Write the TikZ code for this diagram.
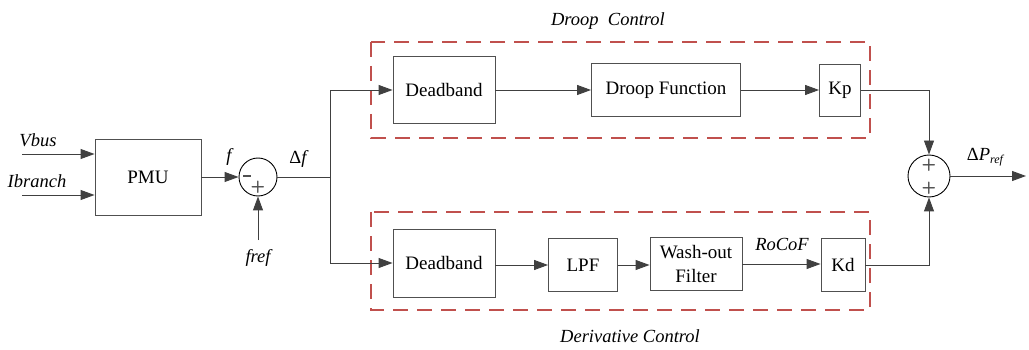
\documentclass[tikz,border=0pt]{standalone}
\usepackage{fontspec}
\setmainfont{LiberationSerif}[Extension=.ttf, UprightFont=*-Regular, ItalicFont=*-Italic, BoldFont=*-Bold, BoldItalicFont=*-BoldItalic]
\usetikzlibrary{arrows.meta,calc}
\definecolor{linec}{HTML}{404040}
\definecolor{boxc}{HTML}{505050}
\definecolor{grpred}{HTML}{C0504D}
\definecolor{signc}{HTML}{505050}
\begin{document}
\begin{tikzpicture}[x=1pt,y=-1pt,
  blk/.style={draw=boxc, line width=0.9pt, fill=white, font=\fontsize{19}{24}\selectfont, inner sep=0pt, align=center},
  arr/.style={draw=linec, line width=0.9pt, -{Triangle[length=14pt,width=10pt]}},
  ln/.style={draw=linec, line width=0.9pt},
  lbl/.style={font=\fontsize{18.5}{20}\selectfont\itshape, inner sep=0pt},
  grp/.style={draw=grpred, line width=1.2pt, dash pattern=on 15pt off 9pt},
  sumc/.style={circle, draw=black, line width=0.9pt, inner sep=0pt},
  sgn/.style={font=\fontsize{17}{17}\sffamily\bfseries, text=signc, inner sep=0pt}
]
\useasboundingbox (0,0) rectangle (1029,350);

% group frames
\draw[grp] (371,42) rectangle (870,138);
\draw[grp] (371,212) rectangle (870,310);
\node[lbl] (tdroop) at (608,21) {Droop~~Control};
\node[lbl] (tderiv) at (630,336) {Derivative Control};

% blocks
\node[blk, minimum width=106pt, minimum height=76pt] (pmu) at (148,177) {PMU};
\node[sumc, minimum size=38pt] (s1) at (258,177) {};
\node[blk, minimum width=102pt, minimum height=67pt] (db1) at (444,90) {Deadband};
\node[blk, minimum width=149pt, minimum height=53pt] (df) at (666,90) {Droop Function};
\node[blk, minimum width=41pt, minimum height=52pt] (kp) at (840,90) {Kp};
\node[blk, minimum width=102pt, minimum height=68pt] (db2) at (444,263) {Deadband};
\node[blk, minimum width=69pt, minimum height=53pt] (lpf) at (583,265) {LPF};
\node[blk, minimum width=92pt, minimum height=53pt] (wash) at (696,264) {Wash-out\\Filter};
\node[blk, minimum width=44pt, minimum height=53pt] (kd) at (843,265) {Kd};
\node[sumc, minimum size=42pt] (s2) at (929,176) {};

% signs
\node[sgn] (m1) at (247,176) {\rule{8pt}{2.2pt}};
\node[sgn] (p1) at (258,187) {+};
\node[sgn] (p2) at (929,165) {+};
\node[sgn] (p3) at (929,188) {+};

% inputs
\coordinate (vin) at (22,154);
\coordinate (iin) at (22,195);
\draw[arr] (vin) -- (vin -| pmu.west);
\draw[arr] (iin) -- (iin -| pmu.west);
\node[lbl] (tv) at (38,140) {Vbus};
\node[lbl] (ti) at (37,181) {Ibranch};

\draw[arr] (pmu.east |- s1) -- (s1.west);
\node[lbl] (tf) at (229,157) {f};
\coordinate (fr) at (258,240);
\draw[arr] (fr) -- (s1.south);
\node[lbl] (tfr) at (258,258) {fref};

\coordinate (br) at (330,177);
\draw[ln] (s1.east) -- (br);
\node[lbl] (tdf) at (298,159) {\upshape Δ\itshape f};
\draw[arr] (br) |- (db1.west);
\draw[arr] (br) |- (db2.west);

\draw[arr] (db1.east) -- (df.west);
\draw[arr] (df.east) -- (df.east -| kp.west);
\draw[arr] (db2.east |- lpf.west) -- (lpf.west);
\draw[arr] (lpf.east) -- (lpf.east -| wash.west);
\draw[arr] (wash.east) -- (wash.east -| kd.west);
\node[lbl] (trocof) at (782,244) {RoCoF};

\draw[arr] (kp.east) -| (s2.north);
\draw[arr] (kd.east) -| (s2.south);

\coordinate (out) at (1026,176);
\draw[arr] (s2.east) -- (out);
\node[lbl] (tp) at (985,157) {\upshape Δ\itshape P\raisebox{-0.35ex}{\fontsize{12}{12}\selectfont ref}};
\end{tikzpicture}
\end{document}
